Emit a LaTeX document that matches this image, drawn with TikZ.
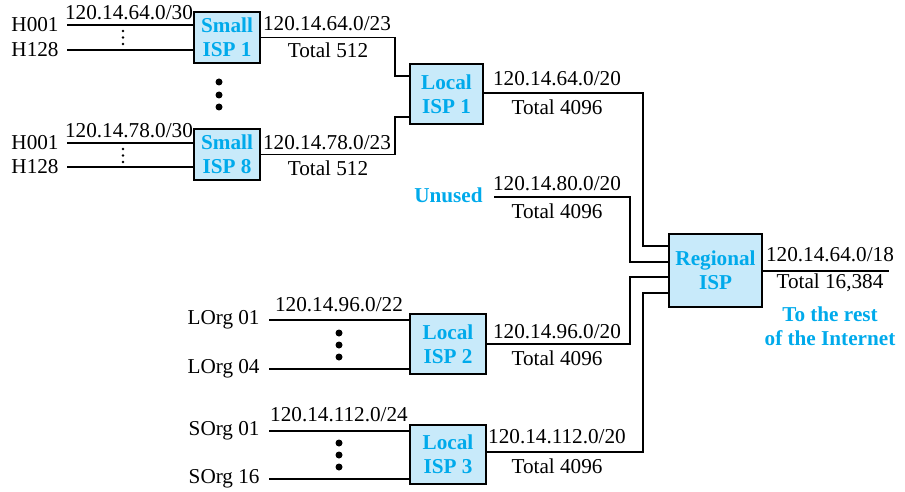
\documentclass[tikz,border=0pt]{standalone}
\usepackage{fontspec}
\setmainfont{Liberation Serif}
\definecolor{isptext}{RGB}{0,170,235}
\definecolor{ispfill}{RGB}{200,234,250}
\begin{document}
\begin{tikzpicture}[x=0.5pt,y=-0.5pt,
  lbl/.style={inner sep=0pt,font=\fontsize{10.6}{12}\selectfont},
  blu/.style={lbl,text=isptext,font=\fontsize{10.6}{12}\selectfont\bfseries,align=center},
  isp/.style={draw,line width=0.6pt,fill=ispfill,inner sep=0pt,text=isptext,
     font=\fontsize{10.6}{12}\selectfont\bfseries,align=center},
  conn/.style={line width=0.55pt},
  feed/.style={line width=0.8pt},
  bigdot/.style={radius=1.75pt},
  smdot/.style={radius=0.65pt}]
\useasboundingbox (0,0) rectangle (905,492);
% boxes
\node[isp,minimum width=33pt,minimum height=25.5pt] (s1) at (227,37.5) {Small\\ISP 1};
\node[isp,minimum width=33pt,minimum height=25.5pt] (s8) at (227,154.5) {Small\\ISP 8};
\node[isp,minimum width=36.5pt,minimum height=30pt] (l1) at (446.5,94) {Local\\ISP 1};
\node[isp,minimum width=38pt,minimum height=30pt] (l2) at (448,344) {Local\\ISP 2};
\node[isp,minimum width=38pt,minimum height=29.5pt] (l3) at (448,454.5) {Local\\ISP 3};
\node[isp,minimum width=46.5pt,minimum height=36.5pt] (r) at (715.5,270.5) {Regional\\ISP};
% host labels
\node[lbl,anchor=east] (h1a) at (59,25) {H001};
\node[lbl,anchor=east] (h1b) at (59,50) {H128};
\node[lbl,anchor=east] (h8a) at (59,143) {H001};
\node[lbl,anchor=east] (h8b) at (59,167) {H128};
\node[lbl,anchor=east] (lo1) at (260,320) {LOrg 01};
\node[lbl,anchor=east] (lo4) at (260,369) {LOrg 04};
\node[lbl,anchor=east] (so1) at (260,431) {SOrg 01};
\node[lbl,anchor=east] (so16) at (260,479) {SOrg 16};
% feed lines
\draw[feed] (67,25) -- (s1.west |- 0,25);
\draw[feed] (67,50) -- (s1.west |- 0,50);
\draw[feed] (67,143) -- (s8.west |- 0,143);
\draw[feed] (67,167) -- (s8.west |- 0,167);
\draw[feed] (269,320) -- (l2.west |- 0,320);
\draw[feed] (269,369) -- (l2.west |- 0,369);
\draw[feed] (269,431) -- (l3.west |- 0,431);
\draw[feed] (269,479) -- (l3.west |- 0,479);
% dots
\foreach \y in {31,37.5,44} \fill (123,\y) circle[smdot];
\foreach \y in {149,155.5,162} \fill (123,\y) circle[smdot];
\foreach \y in {82,95,107} \fill (219,\y) circle[bigdot];
\foreach \y in {333,345,357} \fill (339,\y) circle[bigdot];
\foreach \y in {443,455,467} \fill (339,\y) circle[bigdot];
% connectors
\draw[conn] (s1.east) -| (395,76) -- (l1.west |- 0,76);
\draw[conn] (s8.east) -| (395,117) -- (l1.west |- 0,117);
\draw[conn] (l1.east |- 0,93) -| (643,246) -- (r.west |- 0,246);
\coordinate (un) at (494,197);
\draw[conn] (un) -| (630,262) -- (r.west |- 0,262);
\draw[conn] (l2.east) -| (630,277) -- (r.west |- 0,277);
\draw[conn] (l3.east |- 0,452) -| (643,293) -- (r.west |- 0,293);
\coordinate (net) at (889,271);
\draw[conn] (r.east |- 0,271) -- (net);
% address labels
\node[lbl] (a1) at (129,13) {120.14.64.0/30};
\node[lbl] (a8) at (129,131) {120.14.78.0/30};
\node[lbl] (b1) at (327,24) {120.14.64.0/23};
\node[lbl] (t1) at (328,50) {Total 512};
\node[lbl] (b8) at (327,143) {120.14.78.0/23};
\node[lbl] (t8) at (328,168) {Total 512};
\node[lbl] (c1) at (557,79) {120.14.64.0/20};
\node[lbl] (tc1) at (557,107) {Total 4096};
\node[blu,anchor=east] (unused) at (483,195) {Unused};
\node[lbl] (cu) at (557,184) {120.14.80.0/20};
\node[lbl] (tcu) at (557,211) {Total 4096};
\node[lbl] (rr) at (830,255) {120.14.64.0/18};
\node[lbl] (trr) at (830,283) {Total 16,384};
\node[blu] (rest) at (830,326) {To the rest\\of the Internet};
\node[lbl] (d2) at (339,305) {120.14.96.0/22};
\node[lbl] (c2) at (557,332) {120.14.96.0/20};
\node[lbl] (tc2) at (557,358) {Total 4096};
\node[lbl] (d3) at (339,415) {120.14.112.0/24};
\node[lbl] (c3) at (557,437) {120.14.112.0/20};
\node[lbl] (tc3) at (557,466) {Total 4096};
\end{tikzpicture}
\end{document}
